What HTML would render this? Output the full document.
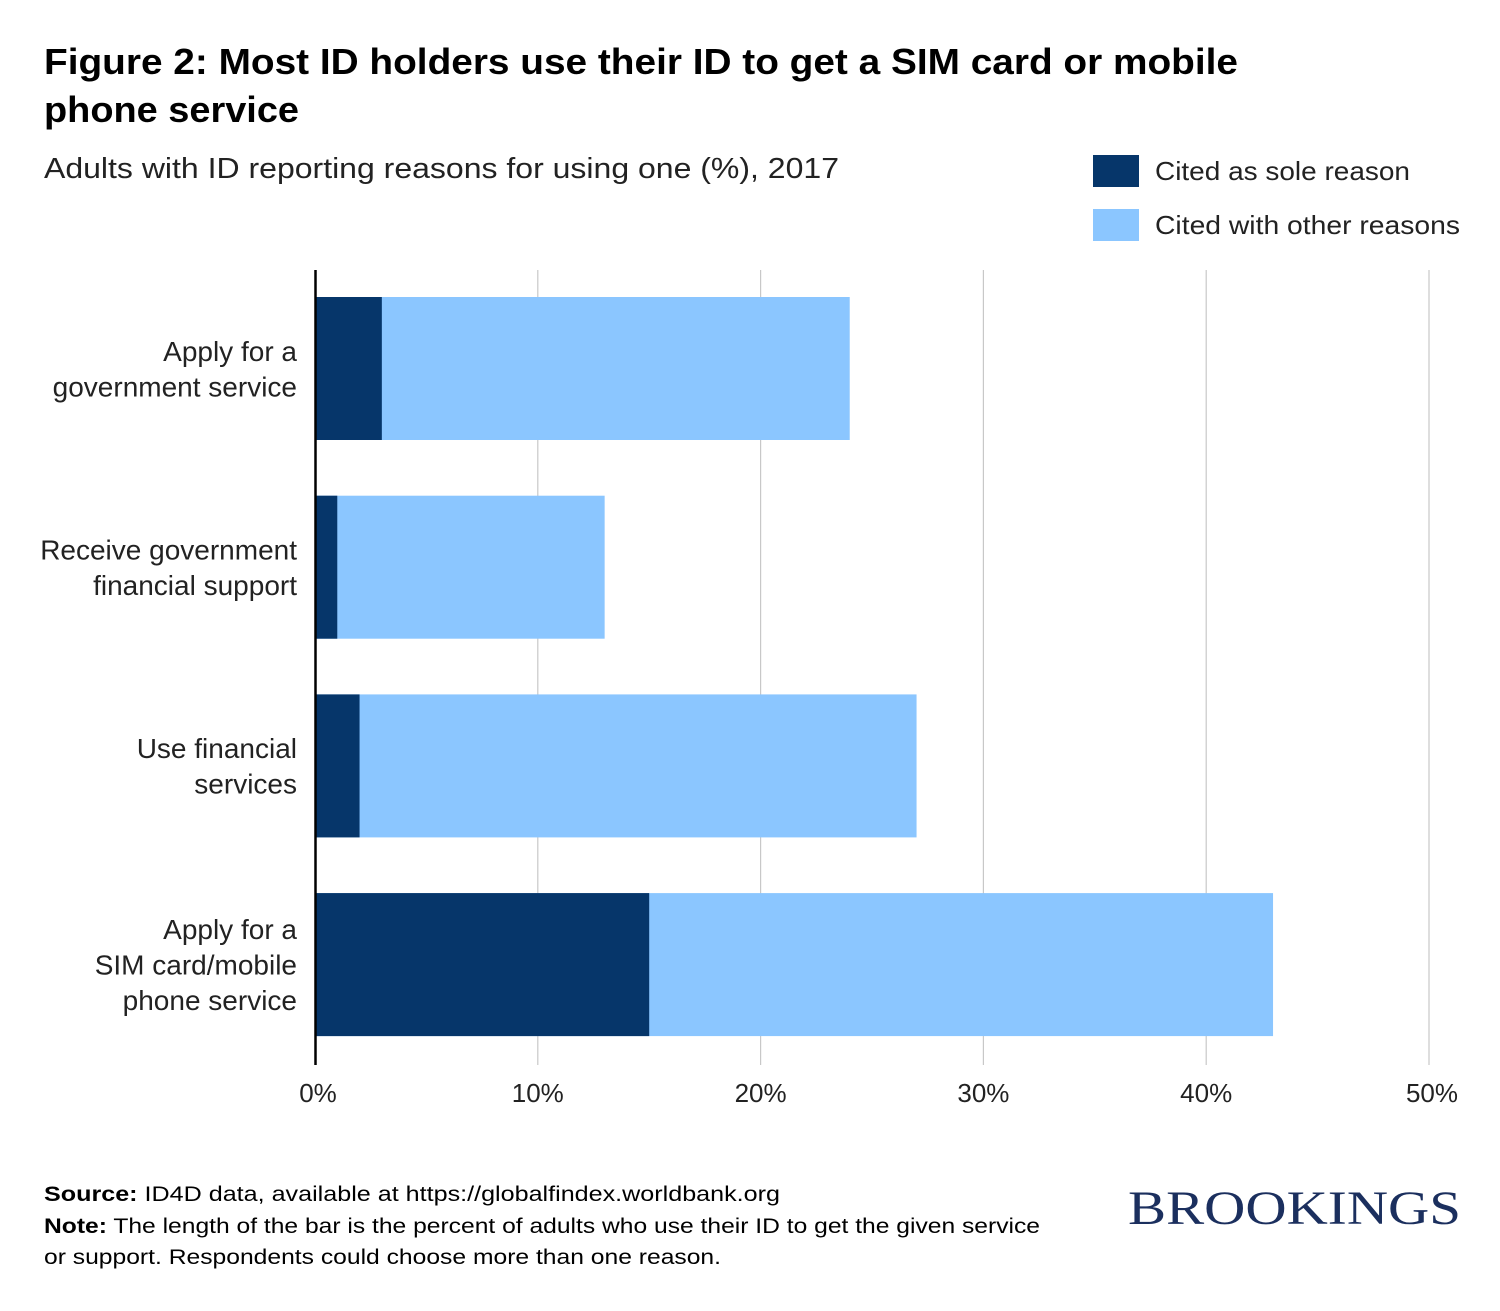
<!DOCTYPE html>
<html><head><meta charset="utf-8"><style>
html,body{margin:0;padding:0;background:#fff;}
svg{display:block;font-family:"Liberation Sans",sans-serif;}
</style></head><body>
<svg id="chart" width="1500" height="1311" viewBox="0 0 1500 1311" xmlns="http://www.w3.org/2000/svg">
<text x="44" y="74" font-size="36" font-weight="bold" fill="#000" textLength="1194" lengthAdjust="spacingAndGlyphs">Figure 2: Most ID holders use their ID to get a SIM card or mobile</text>
<text x="44" y="122" font-size="36" font-weight="bold" fill="#000" textLength="255" lengthAdjust="spacingAndGlyphs">phone service</text>
<text x="44" y="178" font-size="29" fill="#222" textLength="795" lengthAdjust="spacingAndGlyphs">Adults with ID reporting reasons for using one (%), 2017</text>
<g>
<rect x="1093" y="155" width="46" height="32" fill="#06366a"/>
<text x="1155" y="180" font-size="26" fill="#222" textLength="255" lengthAdjust="spacingAndGlyphs">Cited as sole reason</text>
<rect x="1093" y="209" width="46" height="32" fill="#8bc6ff"/>
<text x="1155" y="234" font-size="26" fill="#222" textLength="305" lengthAdjust="spacingAndGlyphs">Cited with other reasons</text>
</g>
<g id="grid"></g>
<g id="bars"></g>
<g id="ylabels"></g>
<g id="xticks"></g>
<line x1="315.5" y1="270" x2="315.5" y2="1065" stroke="#000" stroke-width="2.5"/>
<text x="44" y="1201" font-size="21" fill="#000" textLength="736" lengthAdjust="spacingAndGlyphs"><tspan font-weight="bold">Source:</tspan>  ID4D data, available at https://globalfindex.worldbank.org</text>
<text x="44" y="1233" font-size="21" fill="#000" textLength="996" lengthAdjust="spacingAndGlyphs"><tspan font-weight="bold">Note:</tspan> The length of the bar is the percent of adults who use their ID to get the given service</text>
<text x="44" y="1264" font-size="21" fill="#000" textLength="677" lengthAdjust="spacingAndGlyphs">or support. Respondents could choose more than one reason.</text>
<text x="1461" y="1224" font-size="48" text-anchor="end" fill="#1b2f5e" font-family="Liberation Serif, serif" textLength="333" lengthAdjust="spacingAndGlyphs">BROOKINGS</text>
</svg>
<script>
const categories = [["Apply for a ","government service"],["Receive government","financial support"],["Use financial","services"],["Apply for a ","SIM card/mobile","phone service"]];
const soleValues = [3, 1, 2, 15];
const totalValues = [24, 13, 27, 43];
const tickValues = [0, 10, 20, 30, 40, 50];
const tickLabels = ["0%","10%","20%","30%","40%","50%"];
const NS = "http://www.w3.org/2000/svg";
const x0 = 315, pxPer = 22.28;
function xs(v){ return x0 + v * pxPer; }
const bandTop = 297, bandStep = 198.7, barH = 143;
function ys(i){ return bandTop + i * bandStep; }
function mk(tag, attrs, parent){ const e=document.createElementNS(NS,tag); for(const k in attrs) e.setAttribute(k,attrs[k]); parent.appendChild(e); return e; }
const grid=document.getElementById('grid'), bars=document.getElementById('bars'), yl=document.getElementById('ylabels'), xt=document.getElementById('xticks');
tickValues.forEach((v,i)=>{
  if(v>0){
    const l=mk('line',{x1:xs(v),x2:xs(v),y1:270,y2:1065,stroke:'#c8c8c8','stroke-width':1.2},grid);
    
    
  }
  const t=mk('text',{x:xs(v)+(i===0?3:(i===5?3:0)),y:1102,'font-size':26,'text-anchor':'middle',fill:'#222'},xt);
  t.textContent=tickLabels[i];
  
  
});
categories.forEach((c,i)=>{
  const y=ys(i);
  const r2=mk('rect',{x:xs(0),y:y,width:xs(totalValues[i])-xs(0),height:barH,fill:'#8bc6ff'},bars);
  
  
  const r1=mk('rect',{x:xs(0),y:y,width:xs(soleValues[i])-xs(0),height:barH,fill:'#06366a'},bars);
  
  
  const lh=35.5, cy=y+barH/2, start=cy-(c.length-1)*lh/2+10;
  c.forEach((line,j)=>{
    const t=mk('text',{x:297,y:start+j*lh,'font-size':28,'text-anchor':'end',fill:'#222','xml:space':'preserve'},yl);
    t.textContent=line;
    
    
  });
});
</script>
</body></html>
